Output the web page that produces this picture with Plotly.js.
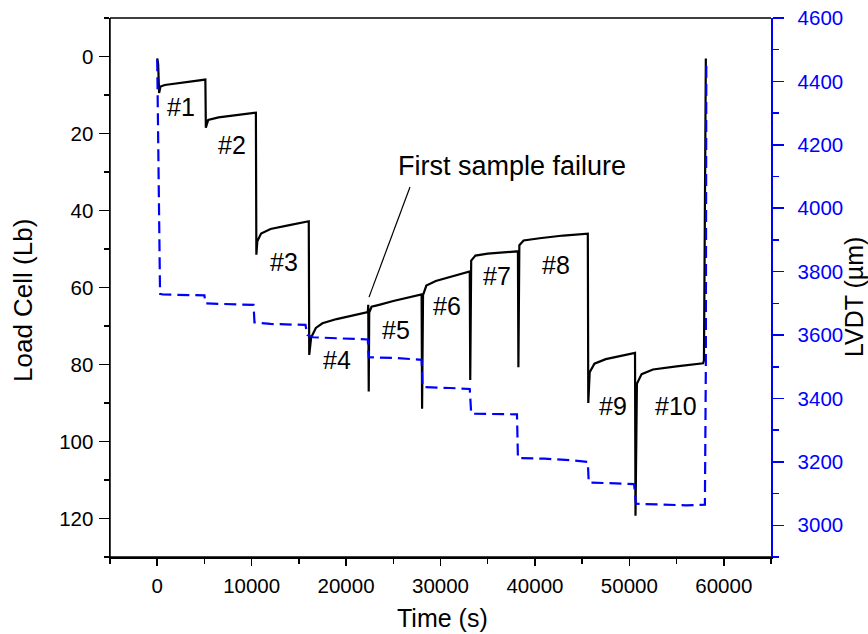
<!DOCTYPE html>
<html>
<head>
<meta charset="utf-8">
<script src="https://cdn.plot.ly/plotly-3.0.1.min.js"></script>
<style>html,body{margin:0;padding:0;background:#fff;}#chart{width:868px;height:634px;}</style>
</head>
<body>
<div id="chart"></div>
<script>
// Load cell (left axis, Lb) — time in seconds
const loadTime = [0, 100, 200, 350, 800, 2500, 5000, 5100,
  5150, 5400, 6500, 8000, 10400, 10450,
  10500, 10600, 11000, 12000, 14000, 16000, 16050,
  16100, 16300, 16800, 17500, 19000, 22300,
  22350, 22400, 22450, 22700, 23500, 25000, 28000,
  28050, 28150, 28500, 29500, 31000, 33100,
  33150, 33250, 33700, 35000, 38200,
  38250, 38350, 38800, 40500, 43000, 45600,
  45650, 45800, 46300, 47500, 50600,
  50650, 50800, 51300, 52500, 55000, 57800,
  57900, 58100];
const loadLb = [0.5, 2, 9.5, 7.8, 7.4, 6.8, 6.0, 6.0,
  18.5, 16.5, 15.8, 15.3, 14.6, 14.6,
  51.5, 48, 46, 44.8, 43.8, 42.8, 42.8,
  77.5, 73, 70.5, 69.3, 68.2, 66.4,
  64.5, 87, 66.5, 65, 64.5, 63.5, 61.8,
  91.5, 62, 59.5, 58.3, 57.2, 55.8,
  84, 53, 51.7, 51.2, 50.6,
  80.7, 49, 47.8, 47.2, 46.5, 46.0,
  90, 82, 79.8, 78.6, 77.0,
  119.3, 85, 82.5, 81.3, 80.5, 79.7,
  79, 0.5];

// LVDT (right axis, µm)
const lvdtTime = [0, 300, 600, 3000, 5000, 5100, 7000, 10200, 10300, 12000, 15700, 15900, 16500, 20000, 22300,
  22400, 25000, 28000, 28100, 31000, 33100, 33250, 36000, 38100, 38200, 41000, 44000, 45600,
  45700, 48000, 50500, 50700, 53000, 56000, 58000, 58100, 58150];
const lvdtUm = [4470, 3730, 3728, 3727, 3725, 3700, 3698, 3695, 3640, 3635, 3632, 3600, 3593, 3590, 3586,
  3530, 3528, 3522, 3436, 3433, 3430, 3352, 3351, 3350, 3212, 3210, 3205, 3200,
  3135, 3133, 3130, 3068, 3066, 3063, 3065, 3500, 4465];

// Step labels
const stepLabels = ['#1','#2','#3','#4','#5','#6','#7','#8','#9','#10'];
const stepX = [2520, 7970, 13430, 19090, 25290, 30740, 35970, 42230, 48220, 54940];
const stepY = [13.1, 23.0, 53.5, 78.8, 71.0, 64.9, 57.1, 54.2, 90.8, 90.8];

const noteText = 'First sample failure';
const noteX = 37520, noteY = 28.4;
const pointerX = [26770, 22430];
const pointerY = [33.9, 62.5];

const xTicks = [0, 10000, 20000, 30000, 40000, 50000, 60000];

const FONT = 'Liberation Sans, Arial, sans-serif';
const BLUE = '#0000ff';

const traces = [
  {x: loadTime, y: loadLb, type: 'scatter', mode: 'lines', xaxis: 'x', yaxis: 'y',
   line: {color: '#000000', width: 2.2}, hoverinfo: 'skip', showlegend: false},
  {x: lvdtTime, y: lvdtUm, type: 'scatter', mode: 'lines', xaxis: 'x', yaxis: 'y2',
   line: {color: BLUE, width: 2.2, dash: '12px,6px'}, hoverinfo: 'skip', showlegend: false}
];

const annotations = stepLabels.map((t, i) => ({
  x: stepX[i], y: stepY[i], xref: 'x', yref: 'y', text: t, showarrow: false,
  font: {family: FONT, size: 25, color: '#000'}, xanchor: 'center', yanchor: 'middle'
}));
annotations.push({x: noteX, y: noteY, xref: 'x', yref: 'y', text: noteText, showarrow: false,
  font: {family: FONT, size: 27, color: '#000'}, xanchor: 'center', yanchor: 'middle'});
annotations.push({x: -0.1316, y: 0.475, xref: 'paper', yref: 'paper', text: 'Load Cell (Lb)', textangle: -90,
  showarrow: false, font: {family: FONT, size: 26, color: '#000'}, xanchor: 'center', yanchor: 'middle'});
annotations.push({x: 1.1256, y: 0.4824, xref: 'paper', yref: 'paper', text: 'LVDT (µm)', textangle: -90,
  showarrow: false, font: {family: FONT, size: 25, color: '#000'}, xanchor: 'center', yanchor: 'middle'});
annotations.push({x: 0.5023, y: -0.113, xref: 'paper', yref: 'paper', text: 'Time (s)',
  showarrow: false, font: {family: FONT, size: 25, color: '#000'}, xanchor: 'center', yanchor: 'middle'});

const frame = {color: '#000', width: 1.5};
const layout = {
  width: 868, height: 634,
  margin: {l: 110, r: 97, t: 18, b: 77, pad: 0},
  paper_bgcolor: '#fff', plot_bgcolor: '#fff',
  showlegend: false,
  font: {family: FONT, color: '#000'},
  xaxis: {range: [-5000, 65000], tickvals: xTicks, tickformat: 'd', ticks: 'outside', ticklen: 7, tickwidth: 1.5,
    tickcolor: '#000', showline: true, linecolor: '#000', linewidth: 1.5, showgrid: false, zeroline: false,
    tickfont: {family: FONT, size: 20.5, color: '#000'}, ticklabelstandoff: 3,
    minor: {dtick: 5000, tick0: 0, ticks: 'outside', ticklen: 5, tickwidth: 1.5, tickcolor: '#000', showgrid: false}},
  xaxis2: {overlaying: 'x', side: 'top', anchor: 'y', range: [-5000, 65000], tickvals: xTicks, ticks: 'inside', ticklen: 10,
    tickwidth: 1.5, tickcolor: '#000', showticklabels: false, showline: true, linecolor: '#000', linewidth: 1.5,
    showgrid: false, zeroline: false,
    minor: {dtick: 5000, tick0: 0, ticks: 'inside', ticklen: 5, tickwidth: 1.5, tickcolor: '#000', showgrid: false}},
  yaxis: {range: [130, -10], autorange: false, dtick: 20, tick0: 0, ticks: 'outside', ticklen: 10, tickwidth: 1.5,
    tickcolor: '#000', showline: true, linecolor: '#000', linewidth: 1.5, showgrid: false, zeroline: false,
    tickfont: {family: FONT, size: 20.5, color: '#000'}, ticklabelstandoff: 1,
    minor: {dtick: 10, tick0: 0, ticks: 'outside', ticklen: 5, tickwidth: 1.5, tickcolor: '#000', showgrid: false}},
  yaxis2: {overlaying: 'y', side: 'right', anchor: 'x', range: [2900, 4600], autorange: false, dtick: 200, tick0: 0,
    ticks: 'outside', ticklen: 11, tickwidth: 1.5, tickcolor: BLUE, showline: true, linecolor: BLUE, linewidth: 1.5,
    showgrid: false, zeroline: false, tickfont: {family: FONT, size: 20.5, color: BLUE}, ticklabelstandoff: 10,
    minor: {dtick: 100, tick0: 0, ticks: 'outside', ticklen: 6, tickwidth: 1.5, tickcolor: BLUE, showgrid: false}},
  shapes: [
    {type: 'line', xref: 'x', yref: 'y', x0: pointerX[0], y0: pointerY[0], x1: pointerX[1], y1: pointerY[1],
     line: {color: '#000', width: 1.2}},
    {type: 'line', xref: 'paper', yref: 'paper', x0: 0, x1: 0, y0: 0, y1: 1, line: frame, layer: 'above'},
    {type: 'line', xref: 'paper', yref: 'paper', x0: 0, x1: 1, y0: 0, y1: 0, line: frame, layer: 'above'},
    {type: 'line', xref: 'paper', yref: 'paper', x0: 0, x1: 1, y0: 1, y1: 1, line: frame, layer: 'above'}
  ],
  annotations: annotations
};

Plotly.newPlot('chart', traces, layout, {staticPlot: true, displayModeBar: false});
</script>
</body>
</html>
